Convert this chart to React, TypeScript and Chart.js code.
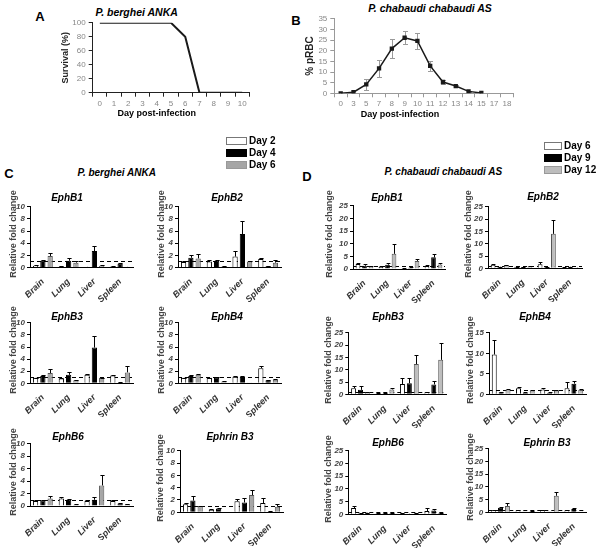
import React, { useEffect, useRef } from 'react';
import { Chart, registerables } from 'chart.js';
Chart.register(...registerables);

const FONT = "'Liberation Sans', Arial, Helvetica, sans-serif";
Chart.defaults.font.family = FONT;

// ---------- Panel A: survival ----------
const survivalDays = ['0', '1', '2', '3', '4', '5', '6', '7', '8', '9', '10'];
const survivalPct = [100, 100, 100, 100, 100, 100, 80, 0, 0, 0, 0];

// ---------- Panel B: parasitemia ----------
const parasitemiaDays = ['0', '3', '5', '7', '8', '9', '10', '11', '12', '13', '14', '15', '17', '18'];
const parasitemiaMean = [0, 0.5, 4.2, 11.7, 21, 26.1, 24.6, 12.9, 5.3, 3.4, 0.9, 0.15, null, null];
const parasitemiaErr = [0, 0, 2.5, 4, 4.3, 3, 3.7, 2.5, 0.9, 0.5, 0.2, 0, 0, 0];

// ---------- Panels C / D ----------
const tissues = ['Brain', 'Lung', 'Liver', 'Spleen'];
const cDays = ['Day 2', 'Day 4', 'Day 6'];
const dDays = ['Day 6', 'Day 9', 'Day 12'];

// C: P. berghei ANKA  (rows: Day 2, Day 4, Day 6; cols: Brain, Lung, Liver, Spleen)
const cEphB1Mean = [[0.3, 0.15, 0.1, 0.15], [1.1, 1.1, 2.7, 0.6], [1.9, 0.8, 0.3, 0.1]];
const cEphB1Err = [[0.05, 0.05, 0.05, 0.05], [0.2, 0.5, 0.9, 0.2], [0.5, 0.3, 0.1, 0.03]];
const cEphB2Mean = [[0.9, 1.0, 1.8, 1.4], [1.6, 1.1, 5.5, 0.2], [1.5, 0.15, 1.0, 0.8]];
const cEphB2Err = [[0.1, 0.2, 0.9, 0.1], [0.4, 0.2, 2.2, 0.05], [0.8, 0.05, 0.15, 0.5]];
const cEphB3Mean = [[0.9, 0.8, 1.4, 1.3], [1.2, 1.4, 5.9, 0.1], [1.7, 0.5, 0.9, 1.8]];
const cEphB3Err = [[0.05, 0.1, 0.2, 0.1], [0.1, 0.4, 1.9, 0.05], [0.6, 0.1, 0.05, 1.0]];
const cEphB4Mean = [[0.9, 0.9, 1.1, 2.5], [1.2, 0.9, 1.1, 0.5], [1.4, 0.3, 0.05, 0.6]];
const cEphB4Err = [[0.05, 0.05, 0.05, 0.4], [0.1, 0.1, 0.1, 0.1], [0.2, 0.05, 0, 0.1]];
const cEphB6Mean = [[0.8, 1.2, 0.8, 0.8], [0.9, 1.0, 1.0, 0.4], [1.2, 0.2, 3.3, 0.3]];
const cEphB6Err = [[0.1, 0.3, 0.1, 0.1], [0.1, 0.15, 0.5, 0.1], [0.4, 0.05, 1.7, 0.05]];
const cEfnB3Mean = [[1.3, 0.4, 1.8, 1.5], [1.9, 0.6, 1.6, 0.1], [1.0, 0.0, 2.8, 0.9]];
const cEfnB3Err = [[0.2, 0.15, 0.3, 0.8], [0.7, 0.1, 0.8, 0.05], [0.1, 0, 0.8, 0.4]];

// D: P. chabaudi chabaudi AS (rows: Day 6, Day 9, Day 12)
const dEphB1Mean = [[2.0, 0.8, 0.4, 1.2], [1.3, 1.7, 0.5, 4.6], [1.0, 6.0, 3.2, 1.8]];
const dEphB1Err = [[0.2, 0.3, 0.1, 0.3], [0.5, 0.8, 0.2, 1.5], [0.2, 4.0, 0.6, 0.4]];
const dEphB2Mean = [[1.4, 0.6, 1.6, 0.3], [0.6, 0.5, 0.5, 0.6], [1.3, 0.8, 14.0, 0.2]];
const dEphB2Err = [[0.3, 0.1, 0.8, 0.05], [0.1, 0.1, 0.1, 0.1], [0.2, 0.1, 5.5, 0.05]];
const dEphB3Mean = [[2.5, 0.3, 4.2, 0.8], [1.8, 0.3, 4.5, 4.0], [0.8, 2.0, 12.3, 14.0]];
const dEphB3Err = [[0.8, 0.3, 2.3, 0.2], [1.5, 0.2, 2.3, 1.3], [0.2, 0.4, 3.7, 6.8]];
const dEphB4Mean = [[9.7, 1.5, 1.2, 1.5], [0.5, 0.4, 0.4, 2.6], [1.2, 0.9, 0.9, 1.1]];
const dEphB4Err = [[3.5, 0.4, 0.4, 1.4], [0.1, 0.1, 0.1, 0.6], [0.1, 0.05, 0.05, 0.1]];
const dEphB6Mean = [[2.5, 0.4, 0.4, 1.3], [0.4, 0.4, 0.2, 1.5], [0.6, 0.5, 0.4, 0.5]];
const dEphB6Err = [[0.6, 0.05, 0.05, 1.0], [0.1, 0.1, 0.1, 0.5], [0.1, 0.05, 0.05, 0.1]];
const dEfnB3Mean = [[0.8, 0.8, 0.8, 0.8], [1.8, 0.05, 0.1, 1.3], [2.5, 0.4, 6.5, 0.1]];
const dEfnB3Err = [[0.05, 0.2, 0.3, 0.2], [0.4, 0, 0, 0.2], [1.2, 0.05, 1.5, 0]];

const cFill = ['#ffffff', '#000000', '#a6a6a6'];
const dFill = ['#ffffff', '#000000', '#bdbdbd'];
const barBorder = ['#000000', '#000000', '#555555'];

// ---------- plugins ----------
function drawErrors(chart: any, phase: string) {
  const ctx = chart.ctx;
  const y = chart.scales.y;
  chart.data.datasets.forEach((ds: any, i: number) => {
    const errs = ds.errors;
    if (!errs) return;
    if ((ds.errorPhase || 'after') !== phase) return;
    const meta = chart.getDatasetMeta(i);
    meta.data.forEach((el: any, j: number) => {
      const v = ds.data[j];
      const e = errs[j];
      if (v == null || !e) return;
      const x = Math.round(el.x) + 0.5;
      const yTop = Math.round(y.getPixelForValue(v + e)) + 0.5;
      const yMid = y.getPixelForValue(v);
      const yBot = ds.errorBoth ? Math.round(y.getPixelForValue(v - e)) + 0.5 : yMid;
      const half = ds.capHalf != null ? ds.capHalf : (el.width ? el.width * 0.4 : 2.5);
      ctx.save();
      ctx.strokeStyle = ds.errorColor || '#000';
      ctx.lineWidth = 1;
      ctx.beginPath();
      ctx.moveTo(x, yBot);
      ctx.lineTo(x, yTop);
      ctx.moveTo(x - half, yTop);
      ctx.lineTo(x + half, yTop);
      if (ds.errorBoth) {
        ctx.moveTo(x - half, yBot);
        ctx.lineTo(x + half, yBot);
      }
      ctx.stroke();
      ctx.restore();
    });
  });
}

const errorBarPlugin = {
  id: 'errorBars',
  beforeDatasetsDraw(chart: any) { drawErrors(chart, 'before'); },
  afterDatasetsDraw(chart: any) { drawErrors(chart, 'after'); },
};

const refLinePlugin = {
  id: 'refLine',
  beforeDatasetsDraw(chart: any, _args: any, opts: any) {
    if (!opts || opts.value == null) return;
    const { ctx, chartArea } = chart;
    const y = Math.round(chart.scales.y.getPixelForValue(opts.value)) + 0.5;
    ctx.save();
    ctx.setLineDash([4, 3]);
    ctx.strokeStyle = '#000';
    ctx.lineWidth = 1;
    ctx.beginPath();
    ctx.moveTo(chartArea.left, y);
    ctx.lineTo(chartArea.right, y);
    ctx.stroke();
    ctx.restore();
  },
};

// ---------- helpers ----------
function Label(props: { x: number; y: number; size?: number; bold?: boolean; italic?: boolean; color?: string; rotate?: number; children: any }) {
  const { x, y, size = 10, bold = true, italic = false, color = '#000', rotate = 0, children } = props;
  return (
    <div
      style={{
        position: 'absolute', left: x, top: y,
        transform: `translate(-50%,-50%)${rotate ? ` rotate(${rotate}deg)` : ''}`,
        font: `${italic ? 'italic ' : ''}${bold ? 'bold ' : ''}${size}px ${FONT}`,
        color, whiteSpace: 'nowrap', lineHeight: 1,
      }}
    >
      {children}
    </div>
  );
}

type BarSpec = {
  title: string; tx: number; ty: number;
  L: number; T: number; R: number; B: number; yt: number;
  yMax: number; step: number;
  mean: number[][]; err: number[][];
  fills: string[]; days: string[];
};

function BarPanel({ spec }: { spec: BarSpec }) {
  const ref = useRef<HTMLCanvasElement>(null);
  const cl = Math.round(spec.yt - 6);
  const ct = Math.round(spec.T - 6);
  const cw = Math.round(spec.R - cl + 5);
  const ch = Math.round(spec.B - ct + 34);
  useEffect(() => {
    const yW = spec.L - cl;
    const xH = ch - (spec.B - ct);
    const tickFont = { family: FONT, size: 8, weight: 'bold', style: 'italic' };
    const chart = new Chart(ref.current as HTMLCanvasElement, {
      type: 'bar',
      data: {
        labels: tissues,
        datasets: spec.mean.map((m, i) => ({
          label: spec.days[i],
          data: m,
          errors: spec.err[i],
          backgroundColor: spec.fills[i],
          borderColor: barBorder[i],
          borderWidth: 1,
          categoryPercentage: 0.85,
          barPercentage: 0.72,
        })),
      },
      options: {
        responsive: false,
        animation: false,
        events: [],
        layout: { padding: { top: spec.T - ct, right: cw - (spec.R - cl), left: 0, bottom: 0 } },
        plugins: { legend: { display: false }, tooltip: { enabled: false }, refLine: { value: 1 } },
        scales: {
          x: {
            ticks: {
              minRotation: 45, maxRotation: 45, autoSkip: false, padding: 1,
              font: { family: FONT, size: 9, weight: 'bold', style: 'italic' }, color: '#333',
            },
            grid: { display: false },
            border: { display: true, color: '#000', width: 1 },
            afterFit: (s: any) => { s.height = xH; },
          },
          y: {
            min: 0, max: spec.yMax,
            ticks: { stepSize: spec.step, autoSkip: false, padding: 2, font: tickFont, color: '#444' },
            grid: { display: true, drawOnChartArea: false, drawTicks: true, tickLength: 3, color: '#000' },
            border: { display: true, color: '#000', width: 1 },
            afterFit: (s: any) => { s.width = yW; },
          },
        },
      },
      plugins: [refLinePlugin, errorBarPlugin],
    } as any);
    return () => chart.destroy();
  }, []);
  return (
    <>
      <canvas ref={ref} width={cw} height={ch} style={{ position: 'absolute', left: cl, top: ct, width: cw, height: ch }} />
      <Label x={spec.yt} y={(spec.T + spec.B) / 2 - 3} size={9} color="#444" rotate={-90}>Relative fold change</Label>
      <Label x={spec.tx} y={spec.ty} size={10} italic>{spec.title}</Label>
    </>
  );
}

type LineSpec = {
  L: number; T: number; R: number; B: number; yt: number; ytSize: number; ytitle: string;
  labels: string[]; data: (number | null)[]; err?: number[]; yMax: number; step: number;
  axisColor: string; lineWidth: number; points: boolean;
};

function LinePanel({ spec }: { spec: LineSpec }) {
  const ref = useRef<HTMLCanvasElement>(null);
  const lh = spec.ytSize * 0.6;
  const cl = Math.round(spec.yt - lh);
  const ct = Math.round(spec.T - 7);
  const cw = Math.round(spec.R - cl + 6);
  const ch = Math.round(spec.B - ct + 16);
  useEffect(() => {
    const yW = spec.L - cl;
    const xH = ch - (spec.B - ct);
    const tickFont = { family: FONT, size: 8 };
    const ds: any = {
      data: spec.data,
      borderColor: '#1a1a1a',
      backgroundColor: '#1a1a1a',
      borderWidth: spec.lineWidth,
      pointRadius: spec.points ? 2 : 0,
      pointStyle: 'rect',
      tension: 0,
      spanGaps: false,
    };
    if (spec.err) {
      ds.errors = spec.err;
      ds.errorBoth = true;
      ds.errorPhase = 'before';
      ds.errorColor = '#9a9a9a';
      ds.capHalf = 2.5;
    }
    const chart = new Chart(ref.current as HTMLCanvasElement, {
      type: 'line',
      data: { labels: spec.labels, datasets: [ds] },
      options: {
        responsive: false,
        animation: false,
        events: [],
        layout: { padding: { top: spec.T - ct, right: cw - (spec.R - cl), left: 0, bottom: 0 } },
        plugins: { legend: { display: false }, tooltip: { enabled: false } },
        scales: {
          x: {
            offset: true,
            ticks: { maxRotation: 0, autoSkip: false, padding: 2, font: tickFont, color: '#888' },
            grid: { display: true, offset: true, drawOnChartArea: false, drawTicks: true, tickLength: 4, color: spec.axisColor },
            border: { display: true, color: spec.axisColor, width: 1 },
            afterFit: (s: any) => { s.height = xH; },
          },
          y: {
            min: 0, max: spec.yMax,
            ticks: { stepSize: spec.step, autoSkip: false, padding: 3, font: tickFont, color: '#888' },
            grid: { display: true, drawOnChartArea: false, drawTicks: true, tickLength: 4, color: spec.axisColor },
            border: { display: true, color: spec.axisColor, width: 1 },
            title: {
              display: true, text: spec.ytitle, padding: 0,
              font: { family: FONT, size: spec.ytSize, weight: 'bold' }, color: '#222',
            },
            afterFit: (s: any) => { s.width = yW; },
          },
        },
      },
      plugins: [errorBarPlugin],
    } as any);
    return () => chart.destroy();
  }, []);
  return <canvas ref={ref} width={cw} height={ch} style={{ position: 'absolute', left: cl, top: ct, width: cw, height: ch }} />;
}

function Legend({ x, y, w, labels, fills }: { x: number; y: number; w: number; labels: string[]; fills: string[] }) {
  return (
    <>
      {labels.map((lab, i) => (
        <React.Fragment key={lab}>
          <div
            style={{
              position: 'absolute', left: x, top: y + i * 12 - 4, width: w, height: 8, boxSizing: 'border-box',
              background: fills[i], border: `1px solid ${i === 0 ? '#777' : i === 1 ? '#000' : '#999'}`,
            }}
          />
          <div
            style={{
              position: 'absolute', left: x + w + 2, top: y + i * 12, transform: 'translateY(-50%)',
              font: `bold 10px ${FONT}`, color: '#000', whiteSpace: 'nowrap', lineHeight: 1,
            }}
          >
            {lab}
          </div>
        </React.Fragment>
      ))}
    </>
  );
}

const cSpecs: BarSpec[] = [
  { title: 'EphB1', tx: 67, ty: 198, L: 30, T: 205.7, R: 133, B: 267.5, yt: 12.5, yMax: 10, step: 2, mean: cEphB1Mean, err: cEphB1Err, fills: cFill, days: cDays },
  { title: 'EphB2', tx: 227, ty: 198, L: 178, T: 205.7, R: 281, B: 267.5, yt: 160.7, yMax: 10, step: 2, mean: cEphB2Mean, err: cEphB2Err, fills: cFill, days: cDays },
  { title: 'EphB3', tx: 67, ty: 316.7, L: 30, T: 321.7, R: 133, B: 383.3, yt: 12.5, yMax: 10, step: 2, mean: cEphB3Mean, err: cEphB3Err, fills: cFill, days: cDays },
  { title: 'EphB4', tx: 227, ty: 316.7, L: 178, T: 321.7, R: 281, B: 383.3, yt: 160.7, yMax: 10, step: 2, mean: cEphB4Mean, err: cEphB4Err, fills: cFill, days: cDays },
  { title: 'EphB6', tx: 68, ty: 436.7, L: 30, T: 443.3, R: 133, B: 506, yt: 12.5, yMax: 10, step: 2, mean: cEphB6Mean, err: cEphB6Err, fills: cFill, days: cDays },
  { title: 'Ephrin B3', tx: 230, ty: 436.7, L: 180, T: 450, R: 283, B: 512.3, yt: 160, yMax: 10, step: 2, mean: cEfnB3Mean, err: cEfnB3Err, fills: cFill, days: cDays },
];

const dSpecs: BarSpec[] = [
  { title: 'EphB1', tx: 387, ty: 197.7, L: 353, T: 205, R: 445, B: 269, yt: 328.5, yMax: 25, step: 5, mean: dEphB1Mean, err: dEphB1Err, fills: dFill, days: dDays },
  { title: 'EphB2', tx: 543, ty: 197.3, L: 488, T: 206, R: 582, B: 268.3, yt: 468, yMax: 25, step: 5, mean: dEphB2Mean, err: dEphB2Err, fills: dFill, days: dDays },
  { title: 'EphB3', tx: 388, ty: 316.7, L: 348.3, T: 331.7, R: 446, B: 394.3, yt: 328, yMax: 25, step: 5, mean: dEphB3Mean, err: dEphB3Err, fills: dFill, days: dDays },
  { title: 'EphB4', tx: 535, ty: 316.7, L: 489, T: 331.7, R: 586, B: 394.3, yt: 470, yMax: 15, step: 5, mean: dEphB4Mean, err: dEphB4Err, fills: dFill, days: dDays },
  { title: 'EphB6', tx: 388, ty: 443.3, L: 348.3, T: 450, R: 446, B: 514.3, yt: 327.5, yMax: 25, step: 5, mean: dEphB6Mean, err: dEphB6Err, fills: dFill, days: dDays },
  { title: 'Ephrin B3', tx: 547, ty: 443.3, L: 488.3, T: 448.3, R: 586, B: 512.3, yt: 469.5, yMax: 25, step: 5, mean: dEfnB3Mean, err: dEfnB3Err, fills: dFill, days: dDays },
];

const survivalSpec: LineSpec = {
  L: 92.7, T: 21.7, R: 249.3, B: 92.7, yt: 65, ytSize: 9, ytitle: 'Survival (%)',
  labels: survivalDays, data: survivalPct, yMax: 100, step: 20, axisColor: '#222', lineWidth: 2, points: false,
};

const parasitemiaSpec: LineSpec = {
  L: 334.3, T: 18.3, R: 513.3, B: 93.3, yt: 310, ytSize: 10, ytitle: '% pRBC',
  labels: parasitemiaDays, data: parasitemiaMean, err: parasitemiaErr, yMax: 35, step: 5, axisColor: '#999', lineWidth: 1.5, points: true,
};

export default function App() {
  return (
    <div style={{ position: 'absolute', left: 0, top: 0, width: 601, height: 548, background: '#fff', overflow: 'hidden' }}>
      <Label x={40} y={16} size={13}>A</Label>
      <Label x={296} y={20} size={13}>B</Label>
      <Label x={9} y={173} size={13}>C</Label>
      <Label x={307} y={175.5} size={13}>D</Label>

      <Label x={136.7} y={11.7} size={10.5} italic>P. berghei ANKA</Label>
      <Label x={430} y={8.3} size={10.5} italic>P. chabaudi chabaudi AS</Label>
      <LinePanel spec={survivalSpec} />
      <LinePanel spec={parasitemiaSpec} />
      <Label x={156.7} y={113.3} size={9}>Day post-infection</Label>
      <Label x={400} y={114} size={9}>Day post-infection</Label>

      <Label x={116.7} y={173.3} size={10} italic>P. berghei ANKA</Label>
      <Label x={443.3} y={171.7} size={10} italic>P. chabaudi chabaudi AS</Label>
      <Legend x={226} y={140.7} w={21} labels={cDays} fills={cFill} />
      <Legend x={544} y={145.5} w={18} labels={dDays} fills={dFill} />

      {cSpecs.map((s) => <BarPanel key={'c' + s.title} spec={s} />)}
      {dSpecs.map((s) => <BarPanel key={'d' + s.title} spec={s} />)}
    </div>
  );
}
